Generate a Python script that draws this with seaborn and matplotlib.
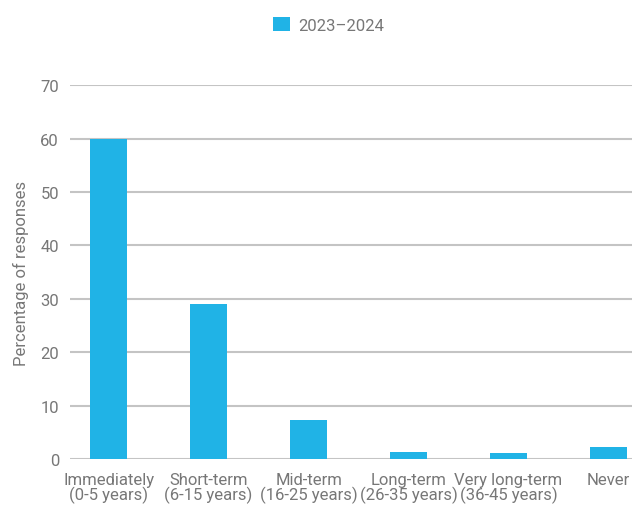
import matplotlib
matplotlib.use("Agg")
import matplotlib.pyplot as plt
import seaborn as sns
import pandas as pd
from matplotlib.patches import Patch

categories = ["Immediately\n(0-5 years)", "Short-term\n(6-15 years)", "Mid-term\n(16-25 years)",
              "Long-term\n(26-35 years)", "Very long-term\n(36-45 years)", "Never"]
values = [60, 29, 7.3, 1.3, 1.1, 2.2]
series_name = "2023\u20132024"
yticks = [0, 10, 20, 30, 40, 50, 60, 70]

df = pd.DataFrame({"category": categories, "value": values})

sns.set_theme(style="white")
plt.rcParams["font.family"] = ["Roboto", "DejaVu Sans"]

fig = plt.figure(figsize=(6.32, 5.10), dpi=100)
ax = fig.add_axes([0.111, 0.098, 0.889, 0.733])
color = "#20B3E6"
sns.barplot(data=df, x="category", y="value", color=color, width=0.37, ax=ax, saturation=1)
for p in ax.patches:
    p.set_edgecolor("none")

ax.set_ylim(0, 70)
ax.set_xlim(-0.385, 5.235)
ax.set_yticks(yticks)
ax.yaxis.grid(True, color="#c4c4c4", linewidth=1.5)
ax.set_axisbelow(True)
for s in ax.spines.values():
    s.set_visible(False)
ax.tick_params(axis="both", length=0, labelsize=12, colors="#777777")
ax.tick_params(axis="y", pad=8)
ax.tick_params(axis="x", pad=9)
ax.set_xlabel("")
ax.set_ylabel("Percentage of responses", fontsize=12, color="#777777", labelpad=8)
for lbl in ax.get_xticklabels():
    lbl.set_linespacing(0.95)

fig.legend(handles=[Patch(facecolor=color, edgecolor="none", label=series_name)],
           loc="upper center", bbox_to_anchor=(0.52, 0.995), frameon=False,
           fontsize=12, labelcolor="#777777", handlelength=1.0, handleheight=1.0,
           handletextpad=0.5)

fig.savefig("out.png", dpi=100)
